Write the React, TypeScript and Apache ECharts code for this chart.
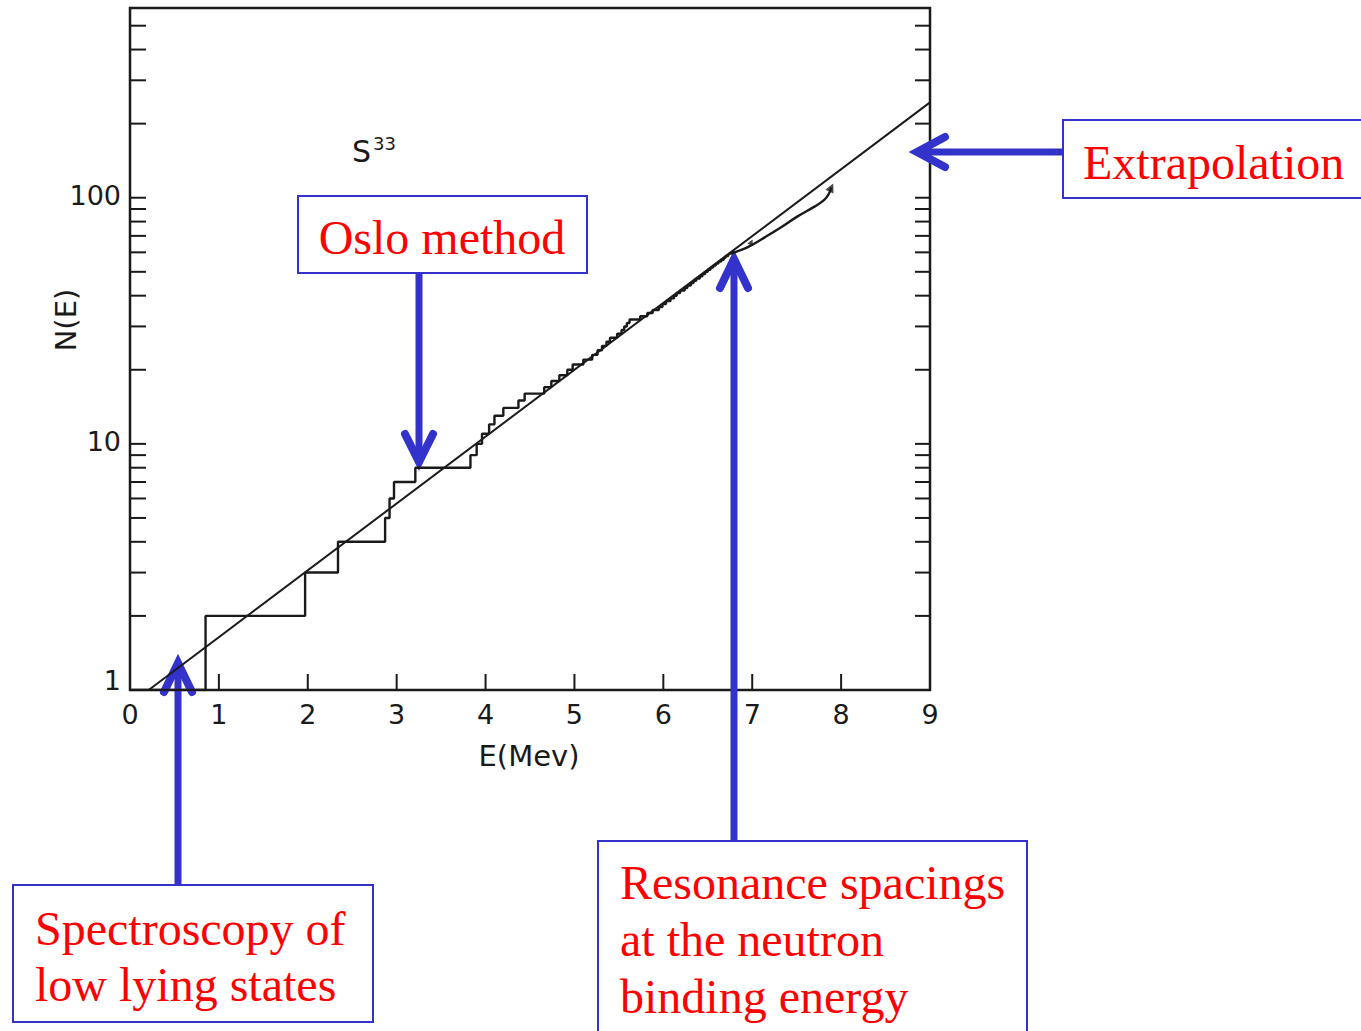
import React, { useEffect, useRef } from "react";
import * as echarts from "echarts";

// Cumulative number of levels N(E) in 33S: energies (MeV) where the count steps up
const levelEnergies = [
  0, 0.85, 1.97, 2.34, 2.87, 2.92, 2.97, 3.21, 3.83, 3.9, 3.96, 4.04, 4.1, 4.2, 4.37, 4.44,
  4.66, 4.74, 4.83, 4.92, 4.98, 5.1, 5.2, 5.26, 5.31, 5.36, 5.4, 5.48, 5.53, 5.56, 5.59,
  5.62, 5.74, 5.82, 5.88, 5.95, 5.99, 6.03, 6.08, 6.12, 6.15, 6.19, 6.24, 6.27, 6.31, 6.34,
  6.37, 6.41, 6.44, 6.47, 6.5, 6.53, 6.56, 6.59, 6.62, 6.65, 6.68, 6.7, 6.73,
];
const levelCounts = [
  1, 2, 3, 4, 5, 6, 7, 8, 9, 10, 11, 12, 13, 14, 15, 16, 17, 18, 19, 20, 21, 22, 23, 24, 25,
  26, 27, 28, 29, 30, 31, 32, 33, 34, 35, 36, 37, 38, 39, 40, 41, 42, 43, 44, 45, 46, 47, 48,
  49, 50, 51, 52, 53, 54, 55, 56, 57, 58, 59,
];

// Smooth count near the neutron binding energy (from resonance spacings)
const resonanceEnergies = [6.73, 6.8, 6.95, 7.14, 7.33, 7.51, 7.7, 7.81, 7.86, 7.89];
const resonanceCounts = [59, 60, 63, 69, 76, 84, 92, 98, 103.5, 110];

// Constant-temperature fit, extrapolated to the right edge
const fitEnergies = [0.21, 9];
const fitCounts = [1, 244];

// Small markers along the resonance curve
const markEnergies = [6.99, 7.89];
const markCounts = [66, 110];

// Axis ticks
const xTickValues = [1, 2, 3, 4, 5, 6, 7, 8];
const yTickValues = [2, 3, 4, 5, 6, 7, 8, 9, 10, 20, 30, 40, 50, 60, 70, 80, 90, 100, 200, 300, 400, 500];
const yLabelValues = [1, 10, 100];

const INK = "#1a1a1a";
const BLUE = "#3333cc";
const RED = "#ff0000";
const SERIF = "'Liberation Serif', 'Times New Roman', serif";
const SANS = "'DejaVu Sans', sans-serif";

function arrow(shaft: number[][], head: number[][]) {
  return [
    {
      type: "polyline",
      shape: { points: shaft },
      style: { stroke: BLUE, lineWidth: 7, fill: "none", lineCap: "butt" },
      silent: true,
    },
    {
      type: "polyline",
      shape: { points: head },
      style: { stroke: BLUE, lineWidth: 8, fill: "none", lineCap: "round", lineJoin: "miter", miterLimit: 10 },
      silent: true,
    },
  ];
}

function box(x: number, y: number, width: number, height: number) {
  return {
    type: "rect",
    shape: { x, y, width, height },
    style: { stroke: BLUE, lineWidth: 2, fill: "#ffffff" },
    silent: true,
  };
}

export default function App() {
  const ref = useRef<HTMLDivElement>(null);

  useEffect(() => {
    if (!ref.current) return;
    const chart = echarts.init(ref.current, undefined, { renderer: "svg" });

    const steps = levelEnergies.map((e, i) => [e, levelCounts[i]]);
    const resonance = resonanceEnergies.map((e, i) => [e, resonanceCounts[i]]);
    const fit = fitEnergies.map((e, i) => [e, fitCounts[i]]);
    const marks = markEnergies.map((e, i) => [e, markCounts[i]]);

    const isLabel = (v: number, t: number) => Math.abs(v - t) < 1e-6 * t;

    const option: any = {
      animation: false,
      backgroundColor: "#ffffff",
      grid: {
        left: 130,
        top: 8,
        width: 800,
        height: 682,
        show: true,
        borderColor: INK,
        borderWidth: 2.5,
        backgroundColor: "transparent",
      },
      xAxis: {
        type: "value",
        min: 0,
        max: 9,
        interval: 1,
        axisLine: { show: false },
        axisTick: { show: false },
        splitLine: { show: false },
        axisLabel: { color: INK, fontFamily: SANS, fontSize: 27, margin: 11 },
      },
      yAxis: {
        type: "log",
        logBase: 10,
        min: 1,
        max: 590,
        axisLine: { show: false },
        axisTick: { show: false },
        splitLine: { show: false },
        axisLabel: {
          margin: 9,
          showMaxLabel: false,
          formatter: (v: number) => {
            if (isLabel(v, yLabelValues[0])) return "{lo|1}";
            if (isLabel(v, yLabelValues[1])) return "{n|10}";
            if (isLabel(v, yLabelValues[2])) return "{n|100}";
            return "";
          },
          rich: {
            lo: { color: INK, fontFamily: SANS, fontSize: 27, padding: [0, 0, 20, 0] },
            n: { color: INK, fontFamily: SANS, fontSize: 27, padding: [0, 0, 4, 0] },
          },
        },
      },
      series: [
        {
          name: "levels",
          type: "line",
          step: "end",
          data: steps,
          showSymbol: false,
          lineStyle: { color: INK, width: 2.4 },
          z: 3,
        },
        {
          name: "resonances",
          type: "line",
          smooth: 0.4,
          data: resonance,
          showSymbol: false,
          lineStyle: { color: INK, width: 2.4 },
          z: 3,
        },
        {
          name: "fit",
          type: "line",
          data: fit,
          showSymbol: false,
          lineStyle: { color: INK, width: 2 },
          z: 3,
        },
        {
          name: "marks",
          type: "scatter",
          data: marks,
          symbol: "triangle",
          symbolSize: (_v: any, p: any) => (p.dataIndex === 0 ? 6 : 9),
          symbolRotate: -25,
          itemStyle: { color: INK },
          z: 4,
        },
        {
          name: "yTicksLeft",
          type: "custom",
          data: yTickValues.map((v) => [0, v]),
          renderItem: (_p: any, api: any) => {
            const pt = api.coord([api.value(0), api.value(1)]);
            return {
              type: "line",
              shape: { x1: pt[0], y1: pt[1], x2: pt[0] + 16, y2: pt[1] },
              style: { stroke: INK, lineWidth: 2 },
            };
          },
          silent: true,
          z: 2,
        },
        {
          name: "yTicksRight",
          type: "custom",
          data: yTickValues.map((v) => [9, v]),
          renderItem: (_p: any, api: any) => {
            const pt = api.coord([api.value(0), api.value(1)]);
            return {
              type: "line",
              shape: { x1: pt[0] - 15, y1: pt[1], x2: pt[0], y2: pt[1] },
              style: { stroke: INK, lineWidth: 2 },
            };
          },
          silent: true,
          z: 2,
        },
        {
          name: "xTicks",
          type: "custom",
          data: xTickValues.map((v) => [v, 1]),
          renderItem: (_p: any, api: any) => {
            const pt = api.coord([api.value(0), api.value(1)]);
            return {
              type: "line",
              shape: { x1: pt[0], y1: pt[1], x2: pt[0], y2: pt[1] - 16 },
              style: { stroke: INK, lineWidth: 2 },
            };
          },
          silent: true,
          z: 2,
        },
      ],
      graphic: [
        // nucleus label
        {
          type: "text",
          x: 352,
          y: 151,
          style: { text: "S", font: `30px ${SANS}`, fill: INK, align: "left", verticalAlign: "middle" },
          silent: true,
        },
        {
          type: "text",
          x: 373,
          y: 143,
          style: { text: "33", font: `18px ${SANS}`, fill: INK, align: "left", verticalAlign: "middle" },
          silent: true,
        },
        // axis titles
        {
          type: "text",
          x: 66,
          y: 320,
          rotation: Math.PI / 2,
          style: { text: "N(E)", font: `29px ${SANS}`, fill: INK, align: "center", verticalAlign: "middle" },
          silent: true,
        },
        {
          type: "text",
          x: 529,
          y: 756,
          style: { text: "E(Mev)", font: `29px ${SANS}`, fill: INK, align: "center", verticalAlign: "middle" },
          silent: true,
        },
        // annotation arrows
        ...arrow([[419, 273], [419, 456]], [[405, 434], [419, 462], [433, 434]]),
        ...arrow([[1063, 152], [922, 152]], [[945, 137], [917, 152], [945, 167]]),
        ...arrow([[734, 842], [734, 266]], [[720, 288], [734, 259], [748, 288]]),
        ...arrow([[178, 886], [178, 670]], [[164, 692], [178, 663], [192, 692]]),
        // annotation boxes
        box(298, 196, 289, 77),
        box(1063, 120, 310, 78),
        box(598, 841, 429, 200),
        box(13, 885, 360, 137),
        // annotation texts
        {
          type: "text",
          x: 442,
          y: 237,
          style: { text: "Oslo method", font: `48px ${SERIF}`, fill: RED, align: "center", verticalAlign: "middle" },
          silent: true,
        },
        {
          type: "text",
          x: 1083,
          y: 162,
          style: { text: "Extrapolation", font: `48px ${SERIF}`, fill: RED, align: "left", verticalAlign: "middle" },
          silent: true,
        },
        {
          type: "text",
          x: 620,
          y: 854,
          style: {
            text: "Resonance spacings\nat the neutron\nbinding energy",
            font: `48px ${SERIF}`,
            lineHeight: 57,
            fill: RED,
            align: "left",
            verticalAlign: "top",
          },
          silent: true,
        },
        {
          type: "text",
          x: 35,
          y: 900,
          style: {
            text: "Spectroscopy of\nlow lying states",
            font: `48px ${SERIF}`,
            lineHeight: 56,
            fill: RED,
            align: "left",
            verticalAlign: "top",
          },
          silent: true,
        },
      ],
    };

    chart.setOption(option);
    return () => chart.dispose();
  }, []);

  return (
    <div
      ref={ref}
      style={{ position: "fixed", left: 0, top: 0, width: 1361, height: 1031, background: "#ffffff" }}
    />
  );
}
